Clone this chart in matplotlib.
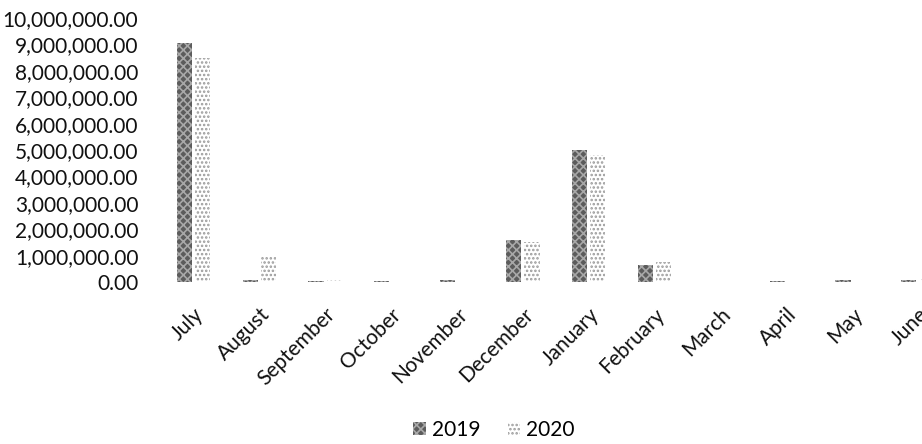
import matplotlib
matplotlib.use("Agg")
import matplotlib.pyplot as plt
import matplotlib.transforms as mtransforms
import numpy as np
from matplotlib.ticker import FuncFormatter

months = ["July", "August", "September", "October", "November", "December",
          "January", "February", "March", "April", "May", "June"]
values_2019 = [9050000, 80000, 50000, 40000, 60000, 1600000,
               5000000, 650000, 0, 20000, 90000, 60000]
values_2020 = [8500000, 950000, 60000, 15000, 0, 1500000,
               4820000, 750000, 0, 10000, 25000, 100000]
yticks = [0, 1e6, 2e6, 3e6, 4e6, 5e6, 6e6, 7e6, 8e6, 9e6, 1e7]

plt.rcParams['font.family'] = ['Lato', 'DejaVu Sans']
plt.rcParams['hatch.linewidth'] = 1.2

fig = plt.figure(figsize=(9.22, 4.44), dpi=100)
ax = fig.add_axes([160.5 / 922, 1 - 282 / 444, 790.5 / 922, 264 / 444])

x = np.arange(len(months))
w = 0.23
off = 0.14
b1 = ax.bar(x - off, values_2019, width=w, facecolor='#5c5c5c', edgecolor='#a8a8a8',
            hatch='xxxx', linewidth=0, label='2019')
b2 = ax.bar(x + off, values_2020, width=w, facecolor='white', edgecolor='#9a9a9a',
            hatch='....', linewidth=0, label='2020')

ax.set_xlim(-0.5, len(months) - 0.5)
ax.set_ylim(0, 1e7)
ax.set_yticks(yticks)
ax.yaxis.set_major_formatter(FuncFormatter(lambda v, p: f"{v:,.2f}"))
ax.set_xticks(x)
ax.set_xticklabels(months, rotation=45, ha='right', va='top', rotation_mode='anchor')
shift = mtransforms.ScaledTranslation(4 / 100, 0, fig.dpi_scale_trans)
for lbl in ax.get_xticklabels():
    lbl.set_transform(lbl.get_transform() + shift)
for s in ax.spines.values():
    s.set_visible(False)
ax.tick_params(axis='both', length=0, labelsize=15, colors='#111111')
ax.tick_params(axis='y', pad=16)
ax.tick_params(axis='x', pad=16)

fig.legend(handles=[b1, b2], labels=['2019', '2020'], loc='center',
           bbox_to_anchor=(494 / 922, 1 - 430 / 444), ncol=2, frameon=False,
           fontsize=15, handlelength=0.6, handleheight=0.6, handletextpad=0.3,
           columnspacing=1.3)

fig.savefig("out.png", dpi=100)
